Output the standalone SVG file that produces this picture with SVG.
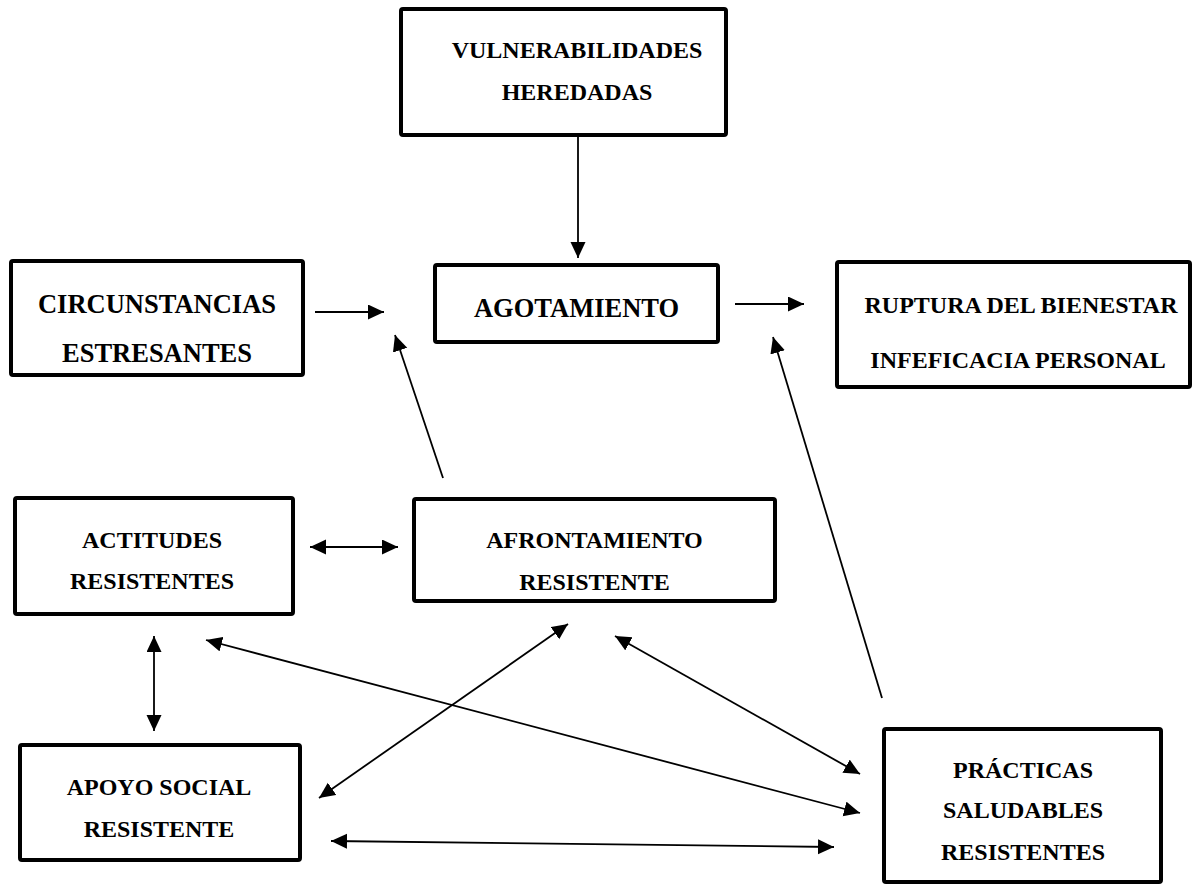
<svg xmlns="http://www.w3.org/2000/svg" width="1200" height="888" viewBox="0 0 1200 888">
<style>
.box{fill:#fff;stroke:#000;stroke-width:4;}
.t{font-family:"Liberation Serif","Times New Roman",serif;font-weight:bold;font-size:24px;fill:#000;text-anchor:middle;}
.big{font-size:26.5px;}
.c{stroke:#000;stroke-width:1.8;fill:none;marker-end:url(#ah);}
.d{marker-start:url(#ah);}
</style>
<defs>
<marker id="ah" markerUnits="userSpaceOnUse" markerWidth="17" markerHeight="16" refX="16" refY="7.5" orient="auto-start-reverse" viewBox="0 0 17 16">
<path d="M0,0 L16,7.5 L0,15 z" fill="#000"/>
</marker>
</defs>
<rect width="1200" height="888" fill="#fff"/>
<g id="vulnerabilidades">
<rect class="box" x="401" y="9" width="325" height="126" rx="2"/>
<text class="t" x="577" y="58">VULNERABILIDADES</text>
<text class="t" x="577" y="100">HEREDADAS</text>
</g>
<g id="circunstancias">
<rect class="box" x="11" y="261" width="292" height="114" rx="2"/>
<text class="t big" x="157" y="313">CIRCUNSTANCIAS</text>
<text class="t big" x="157" y="362">ESTRESANTES</text>
</g>
<g id="agotamiento">
<rect class="box" x="435" y="265" width="283" height="77" rx="2"/>
<text class="t big" x="576.5" y="317">AGOTAMIENTO</text>
</g>
<g id="ruptura">
<rect class="box" x="837" y="262" width="353" height="125" rx="2"/>
<text class="t" x="1021" y="313">RUPTURA DEL BIENESTAR</text>
<text class="t" x="1018" y="368">INFEFICACIA PERSONAL</text>
</g>
<g id="actitudes">
<rect class="box" x="15" y="498" width="278" height="116" rx="2"/>
<text class="t" x="152" y="548">ACTITUDES</text>
<text class="t" x="152" y="589">RESISTENTES</text>
</g>
<g id="afrontamiento">
<rect class="box" x="414" y="499" width="361" height="102" rx="2"/>
<text class="t" x="594.5" y="548">AFRONTAMIENTO</text>
<text class="t" x="594.5" y="590">RESISTENTE</text>
</g>
<g id="apoyo">
<rect class="box" x="20" y="745" width="280" height="115" rx="2"/>
<text class="t" x="159" y="795">APOYO SOCIAL</text>
<text class="t" x="159" y="837">RESISTENTE</text>
</g>
<g id="practicas">
<rect class="box" x="884" y="729" width="277" height="153" rx="2"/>
<text class="t" x="1023" y="778">PRÁCTICAS</text>
<text class="t" x="1023" y="818">SALUDABLES</text>
<text class="t" x="1023" y="860">RESISTENTES</text>
</g>
<g id="connectors">
<line class="c" x1="578" y1="137" x2="578" y2="258"/>
<line class="c" x1="315" y1="312" x2="384" y2="312"/>
<line class="c" x1="735" y1="304" x2="804" y2="304"/>
<line class="c" x1="443" y1="478" x2="395" y2="335"/>
<line class="c" x1="882" y1="698" x2="773" y2="337"/>
<line class="c d" x1="310" y1="547" x2="398" y2="547"/>
<line class="c d" x1="154" y1="636" x2="154" y2="731"/>
<line class="c d" x1="206" y1="640" x2="860" y2="813"/>
<line class="c d" x1="568" y1="624" x2="319" y2="798"/>
<line class="c d" x1="615" y1="636" x2="860" y2="774"/>
<line class="c d" x1="331" y1="841" x2="834" y2="847"/>
</g>
</svg>
